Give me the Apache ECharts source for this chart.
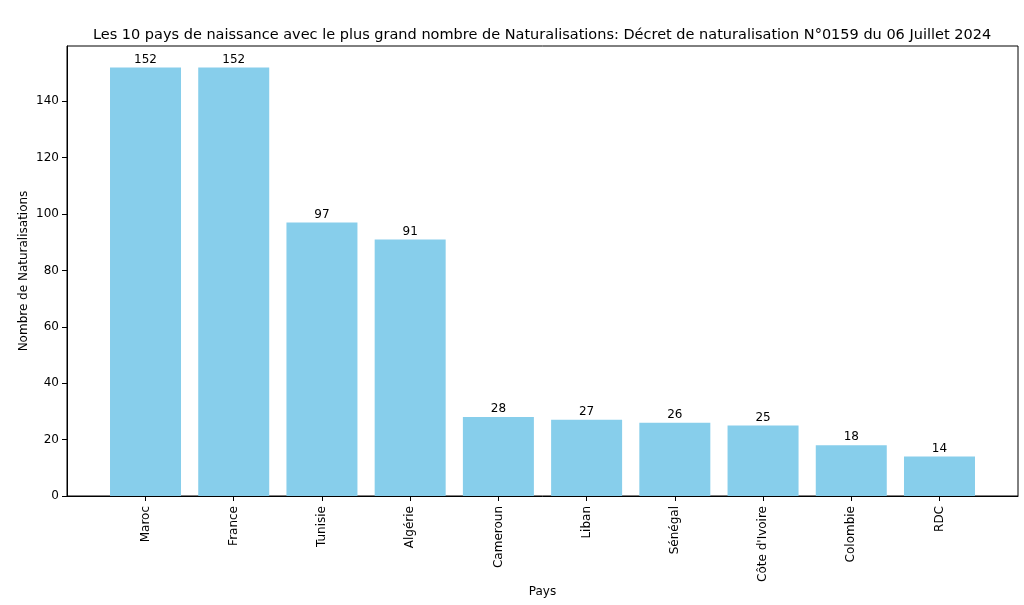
<!DOCTYPE html>
<html>
<head>
<meta charset="utf-8">
<script src="https://cdn.jsdelivr.net/npm/echarts@6/dist/echarts.min.js"></script>
<style>
  html, body { margin: 0; padding: 0; background: #fff; }
  #chart { width: 1024px; height: 605px; }
</style>
</head>
<body>
<div id="chart"></div>
<script>
// données
var pays = ['Maroc', 'France', 'Tunisie', 'Algérie', 'Cameroun', 'Liban', 'Sénégal', "Côte d'Ivoire", 'Colombie', 'RDC']
var naturalisations = [152, 152, 97, 91, 28, 27, 26, 25, 18, 14]
var yTicks = [0, 20, 40, 60, 80, 100, 120, 140]

var positions = pays.map(function (p, i) { return i })
var barData = pays.map(function (p, i) { return [i, naturalisations[i]] })

var chart = echarts.init(document.getElementById('chart'))

var font = 'DejaVu Sans'

var option = {
  animation: false,
  textStyle: { fontFamily: font },
  title: {
    text: 'Les 10 pays de naissance avec le plus grand nombre de Naturalisations: Décret de naturalisation N°0159 du 06 Juillet 2024',
    left: 537,
    top: 23,
    textAlign: 'center',
    textStyle: { fontFamily: font, fontSize: 14.5, fontWeight: 'normal', color: '#000' }
  },
  grid: {
    left: 67,
    right: 6,
    top: 46,
    bottom: 109,
    outerBoundsMode: 'none',
    containLabel: false,
    show: true,
    borderColor: '#000',
    borderWidth: 1
  },
  xAxis: {
    type: 'value',
    min: -0.89,
    max: 9.89,
    name: 'Pays',
    nameLocation: 'middle',
    nameGap: 90,
    nameMoveOverlap: false,
    nameTextStyle: { fontFamily: font, fontSize: 12, color: '#000' },
    axisLine: { show: true, onZero: false, lineStyle: { color: '#000', width: 1 } },
    axisTick: { show: true, length: 5, customValues: positions, lineStyle: { color: '#000' } },
    splitLine: { show: false },
    axisLabel: {
      customValues: positions,
      rotate: 90,
      margin: 10,
      fontFamily: font,
      fontSize: 12,
      color: '#000',
      formatter: function (v) { return pays[Math.round(v)] }
    }
  },
  yAxis: {
    type: 'value',
    min: 0,
    max: 159.6,
    name: 'Nombre de Naturalisations',
    nameLocation: 'middle',
    nameGap: 37,
    nameMoveOverlap: false,
    nameTextStyle: { fontFamily: font, fontSize: 12, color: '#000' },
    axisLine: { show: true, onZero: false, lineStyle: { color: '#000', width: 1 } },
    axisTick: { show: true, length: 5, customValues: yTicks, lineStyle: { color: '#000' } },
    splitLine: { show: false },
    axisLabel: {
      customValues: yTicks,
      margin: 8,
      fontFamily: font,
      fontSize: 12,
      color: '#000'
    }
  },
  series: [
    {
      type: 'bar',
      data: barData,
      barWidth: 71,
      itemStyle: { color: '#87CEEB' },
      label: {
        show: true,
        position: 'top',
        distance: 2,
        fontFamily: font,
        fontSize: 12,
        color: '#000',
        formatter: function (p) { return p.value[1] }
      }
    }
  ]
}

chart.setOption(option)
</script>
</body>
</html>
